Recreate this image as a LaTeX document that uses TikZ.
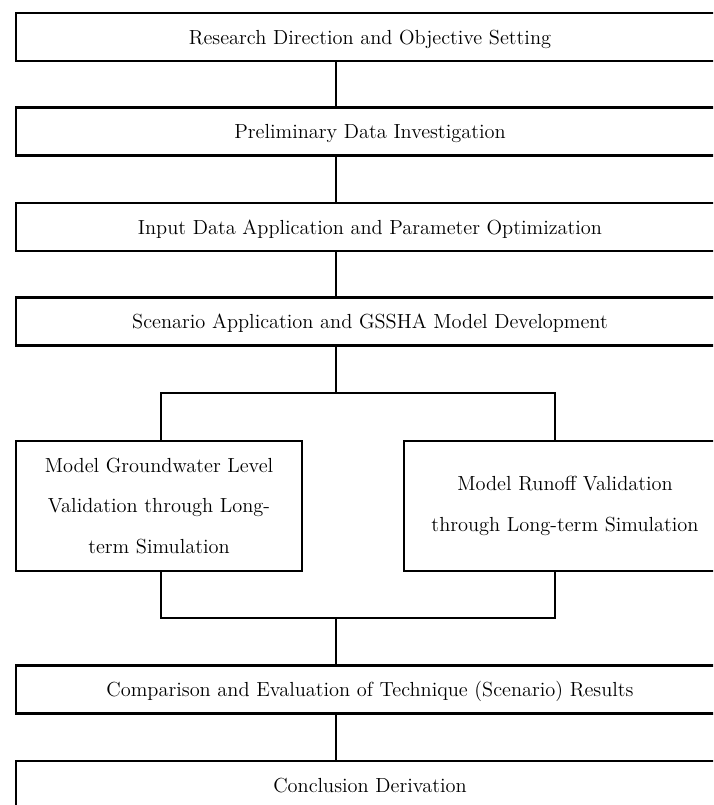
\documentclass[tikz,border=0pt]{standalone}
\usetikzlibrary{positioning}
\begin{document}
\begin{tikzpicture}[
  font=\fontsize{14.5}{29}\selectfont,
  box/.style      = {draw, line width=2.1pt, inner sep=4pt, align=center},
  mainbox/.style  = {box, minimum width=17.7cm, minimum height=1.2cm,
                     text height=1.2em, text depth=0.2em},
  sidebox/.style  = {box, minimum height=3.25cm},
  link/.style     = {line width=2.1pt},
]
\useasboundingbox (0,0) rectangle (17.825,-20.125);
\clip (0,0) rectangle (17.825,-20.125);

%%────────── main column ─────────────────────────────────────
\node[mainbox] (research) at (9.25, -0.925)  {Research Direction and Objective Setting};
\node[mainbox] (prelim)   at (9.25, -3.2875) {Preliminary Data Investigation};
\node[mainbox] (inputs)   at (9.25, -5.675)  {Input Data Application and Parameter Optimization};
\node[mainbox] (scenario) at (9.25, -8.0375) {Scenario Application and GSSHA Model Development};

%%────────── validation pair ─────────────────────────────────
\node[sidebox, minimum width=7.15cm] (gwval) at (3.975, -12.65)
  {Model Groundwater Level\\Validation through Long-\\term Simulation};
\node[sidebox, minimum width=8.05cm] (roval) at (14.125, -12.65)
  {Model Runoff Validation\\through Long-term Simulation};

\node[mainbox] (compare)  at (9.25, -17.2375) {Comparison and Evaluation of Technique (Scenario) Results};
\node[mainbox] (conclude) at (9.25, -19.625)  {Conclusion Derivation};

\coordinate (spine) at (8.4, 0);
\coordinate (split) at (8.4, -9.825);
\coordinate (merge) at (8.4, -15.45);
\coordinate (gwx)   at (4.025, 0);
\coordinate (rox)   at (13.875, 0);

\draw[link] (research.south -| spine) -- (prelim.north -| spine);
\draw[link] (prelim.south -| spine)   -- (inputs.north -| spine);
\draw[link] (inputs.south -| spine)   -- (scenario.north -| spine);
\draw[link] (scenario.south -| spine) -- (split);
\draw[link] (gwval.north -| gwx) |- (split) -| (roval.north -| rox);
\draw[link] (gwval.south -| gwx) |- (merge) -| (roval.south -| rox);
\draw[link] (merge) -- (compare.north -| spine);
\draw[link] (compare.south -| spine)  -- (conclude.north -| spine);

\end{tikzpicture}
\end{document}
